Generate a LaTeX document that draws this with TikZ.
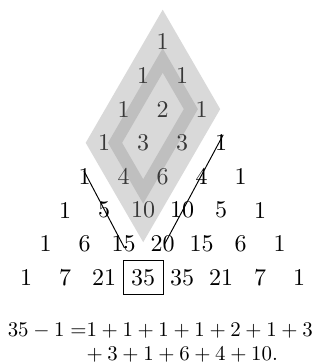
\documentclass[tikz,border=0pt]{standalone}
\usetikzlibrary{calc}
\tikzset{
  num/.style={inner sep=0pt, anchor=center},
  boxframe/.style={draw, inner sep=0pt, minimum width=16.67pt, minimum height=13.9pt},
  lightshade/.style={fill=black!15},
  bandshade/.style={fill=black!25, even odd rule},
  conn/.style={draw=black, line width=0.4pt},
  eqline/.style={inner sep=0pt, scale=0.87},
}
\begin{document}
\begin{tikzpicture}[x=0.41667pt,y=-0.41667pt]
\useasboundingbox (0,0) rectangle (320,363);
% shading
\fill[lightshade] (162.7,9.7) -- (220.2,109.1) -- (143.2,242.2) -- (85.7,142.8) -- cycle;
\fill[bandshade] (162.7,48.3) -- (197.9,109.1) -- (143.2,203.6) -- (108,142.8) -- cycle
  (162.7,72.7) -- (183.8,109.1) -- (143.2,179.2) -- (122.1,142.8) -- cycle;
% numbers
\foreach \n/\vals in {0/{1},1/{1,1},2/{1,2,1},3/{1,3,3,1},4/{1,4,6,4,1},5/{1,5,10,10,5,1},6/{1,6,15,20,15,6,1},7/{1,7,21,35,35,21,7,1}}{
  \foreach \v [count=\k from 0] in \vals {
    \pgfmathtruncatemacro\ins{and(\k<3,\n-\k<4)}
    \ifnum\ins=1 \def\col{black!78}\else\def\col{black}\fi
    \node[num, text=\col] (n\n\k) at ({162.7+39*(\k-\n/2)},{41.7+33.7*\n}) {\v};
  }
}
\node[boxframe] (box35) at (n73) {};
% lines
\coordinate (la) at ($(n40)+(-0.7,-5.5)$);
\coordinate (lb) at ($(n62)+(0.8,4)$);
\coordinate (ra) at ($(n33)+(2,-8)$);
\coordinate (rb) at ($(n63)+(2,0)$);
\draw[conn] (la) -- (lb);
\draw[conn] (ra) -- (rb);
% equation
\node[eqline, anchor=base] (eq1) at (160.3,336) {${35-1=}1+1+1+1+2+1+3$};
\node[eqline, anchor=base west] (eq2) at (81.5,360) {${}+3+1+6+4+10.$};
\end{tikzpicture}
\end{document}
